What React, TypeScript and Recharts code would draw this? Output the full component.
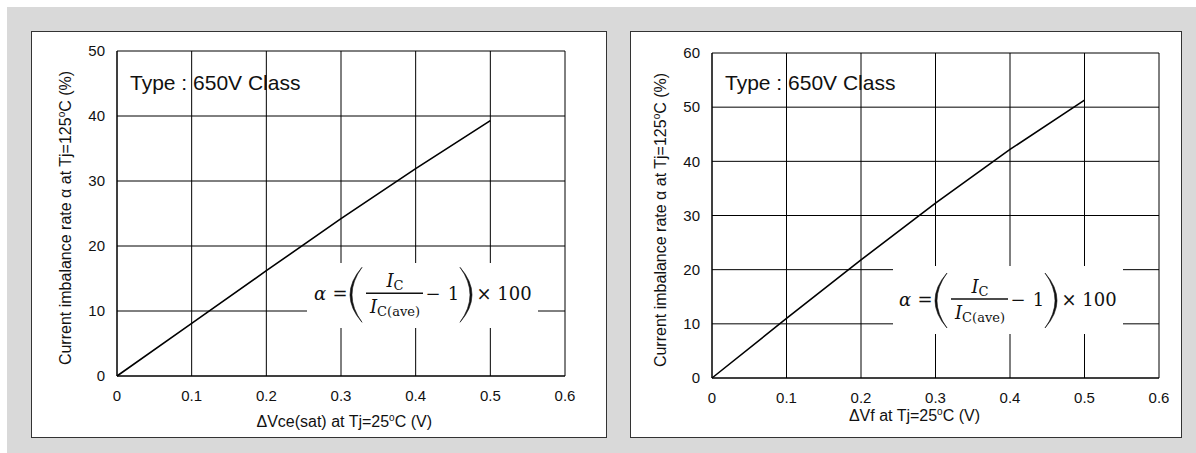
import { LineChart, Line, XAxis, YAxis, CartesianGrid, Label } from 'recharts'

const xTicks = [0, 0.1, 0.2, 0.3, 0.4, 0.5, 0.6]

// left: dVce(sat)
const vceX = [0, 0.1, 0.2, 0.3, 0.4, 0.5]
const vceAlpha = [0, 8.1, 16.2, 24.2, 31.9, 39.3]
const vceYTicks = [0, 10, 20, 30, 40, 50]

// right: dVf
const vfX = [0, 0.1, 0.2, 0.3, 0.4, 0.5]
const vfAlpha = [0, 11, 21.8, 32.3, 42.2, 51.3]
const vfYTicks = [0, 10, 20, 30, 40, 50, 60]

const typeLabel = 'Type : 650V Class'
const yTitle = 'Current imbalance rate α at Tj=125'

const SANS = '"Liberation Sans", Arial, sans-serif'
const SERIF = '"DejaVu Serif", "Liberation Serif", serif'
const INK = '#111'

interface FormulaProps {
  fx: number
  fy: number
}

function Paren({ x0, x1, y0, y1 }: { x0: number; x1: number; y0: number; y1: number }) {
  // x0 = tip side, x1 = bulge side
  const my = (y0 + y1) / 2
  const outer = 2 * x1 - x0
  const inner = outer + (x0 < x1 ? -4 : 4)
  return (
    <path
      d={`M${x0},${y0} Q${outer},${my} ${x0},${y1} Q${inner},${my} ${x0},${y0} Z`}
      fill={INK}
      stroke={INK}
      strokeWidth={0.6}
    />
  )
}

function Formula({ fx, fy }: FormulaProps) {
  const base = fy + 7
  const t = { fontFamily: SERIF, fontSize: 18, fill: INK, textAnchor: 'middle' as const }
  return (
    <g>
      <text x={fx + 13} y={base} {...t} fontStyle="italic">α</text>
      <text x={fx + 33} y={base} {...t}>=</text>
      <Paren x0={fx + 55} x1={fx + 43} y0={fy - 26} y1={fy + 29} />
      <text x={fx + 88} y={fy - 6} {...t}>
        <tspan fontStyle="italic">I</tspan>
        <tspan fontSize={13} dy={3}>C</tspan>
      </text>
      <line x1={fx + 59} x2={fx + 116} y1={fy} y2={fy} stroke={INK} strokeWidth={1.4} />
      <text x={fx + 88} y={fy + 20} {...t}>
        <tspan fontStyle="italic">I</tspan>
        <tspan fontSize={13} dy={3}>C(ave)</tspan>
      </text>
      <text x={fx + 126} y={base} {...t}>−</text>
      <text x={fx + 146.5} y={base} {...t}>1</text>
      <Paren x0={fx + 153} x1={fx + 165} y0={fy - 26} y1={fy + 29} />
      <text x={fx + 177} y={base} {...t}>×</text>
      <text x={fx + 207.5} y={base} {...t}>100</text>
    </g>
  )
}

interface PanelProps {
  left: number
  width: number
  margin: { top: number; right: number; left: number; bottom: number }
  xs: number[]
  ys: number[]
  yTicks: number[]
  xTitle: string
  xTitleEnd: number
  xTitleBase: number
  yTitleX: number
  yTitleY: number
  typeX: number
  box: { x: number; y: number; w: number; h: number }
  fx: number
  fy: number
}

const H = 407

function Panel(p: PanelProps) {
  const data = p.xs.map((x, i) => ({ x, alpha: p.ys[i] }))
  const yMax = p.yTicks[p.yTicks.length - 1]
  return (
    <div
      style={{
        position: 'absolute',
        left: p.left,
        top: 31,
        width: p.width,
        height: H,
        background: '#fff',
        border: '1px solid #333',
        boxSizing: 'border-box',
      }}
    >
      <div style={{ position: 'absolute', left: -1, top: -1 }}>
        <LineChart width={p.width} height={H} data={data} margin={p.margin}>
          <CartesianGrid stroke="#000" strokeWidth={1} />
          <XAxis
            dataKey="x"
            type="number"
            domain={[0, 0.6]}
            ticks={xTicks}
            height={50}
            tickSize={0}
            tickMargin={14}
            axisLine={{ stroke: '#000' }}
            tick={{ fontSize: 15, fill: INK, fontFamily: SANS }}
          >
            <Label
              content={() => (
                <text x={p.xTitleEnd} y={p.xTitleBase} textAnchor="end" fontSize={16} fill={INK} fontFamily={SANS}>
                  {p.xTitle}
                  <tspan fontSize={10} dy={-6}>o</tspan>
                  <tspan dy={6}>C (V)</tspan>
                </text>
              )}
            />
          </XAxis>
          <YAxis
            type="number"
            domain={[0, yMax]}
            ticks={p.yTicks}
            width={70}
            tickSize={0}
            tickMargin={12}
            axisLine={{ stroke: '#000' }}
            tick={{ fontSize: 15, fill: INK, fontFamily: SANS }}
          >
            <Label
              content={() => (
                <text
                  x={p.yTitleX}
                  y={p.yTitleY}
                  transform={`rotate(-90 ${p.yTitleX} ${p.yTitleY})`}
                  textAnchor="middle"
                  fontSize={16}
                  fill={INK}
                  fontFamily={SANS}
                >
                  {yTitle}
                  <tspan fontSize={10} dy={-6}>o</tspan>
                  <tspan dy={6}>C (%)</tspan>
                </text>
              )}
            />
          </YAxis>
          <Line
            type="linear"
            dataKey="alpha"
            stroke="#000"
            strokeWidth={1.6}
            dot={false}
            isAnimationActive={false}
          />
        </LineChart>
      </div>
      <svg
        width={p.width}
        height={H}
        style={{ position: 'absolute', left: -1, top: -1, pointerEvents: 'none' }}
      >
        <text x={p.typeX} y={59} fontSize={21} fill={INK} fontFamily={SANS}>
          {typeLabel}
        </text>
        <rect x={p.box.x} y={p.box.y} width={p.box.w} height={p.box.h} fill="#fff" />
        <Formula fx={p.fx} fy={p.fy} />
      </svg>
    </div>
  )
}

export default function App() {
  return (
    <div style={{ position: 'absolute', left: 0, top: 0, width: 1196, height: 453, background: '#fff' }}>
      <div style={{ position: 'absolute', left: 7, top: 7, width: 1189, height: 446, background: '#d9d9d9' }} />
      <Panel
        left={31}
        width={576}
        margin={{ top: 20, right: 42, left: 16, bottom: 12 }}
        xs={vceX}
        ys={vceAlpha}
        yTicks={vceYTicks}
        xTitle="ΔVce(sat) at Tj=25"
        xTitleEnd={401}
        xTitleBase={396}
        yTitleX={40}
        yTitleY={187}
        typeX={99}
        box={{ x: 276, y: 232, w: 231, h: 65 }}
        fx={276}
        fy={262.3}
      />
      <Panel
        left={630}
        width={552}
        margin={{ top: 22, right: 23, left: 12, bottom: 10 }}
        xs={vfX}
        ys={vfAlpha}
        yTicks={vfYTicks}
        xTitle="ΔVf at Tj=25"
        xTitleEnd={350}
        xTitleBase={390}
        yTitleX={36}
        yTitleY={189}
        typeX={95}
        box={{ x: 263, y: 235, w: 230, h: 68 }}
        fx={262}
        fy={268}
      />
    </div>
  )
}
